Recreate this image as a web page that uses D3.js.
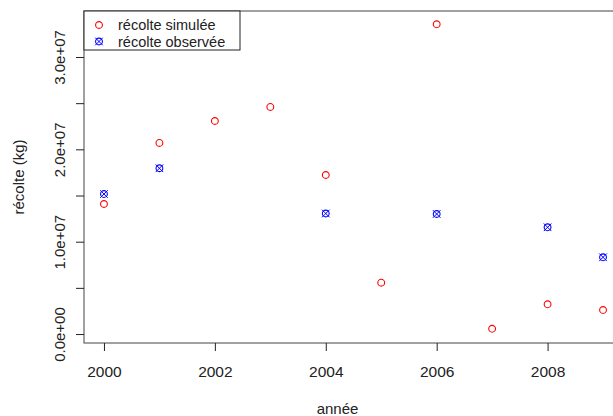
<!DOCTYPE html>
<html>
<head>
<meta charset="utf-8">
<script src="https://cdn.jsdelivr.net/npm/d3@7"></script>
<style>
  html, body { margin: 0; padding: 0; background: #fff; }
  svg { display: block; }
  text { font-family: "Liberation Sans", Arial, sans-serif; fill: #222; }
</style>
</head>
<body>
<svg id="chart" width="613" height="416"></svg>
<script>
// Harvest per year: simulated vs observed (kg); null = no observation
const years = [2000, 2001, 2002, 2003, 2004, 2005, 2006, 2007, 2008, 2009];
const simulated = [14.08e6, 20.69e6, 23.07e6, 24.59e6, 17.22e6, 5.56e6, 33.54e6, 0.57e6, 3.22e6, 2.60e6];
const observed = [15.16e6, 17.95e6, null, null, 13.05e6, null, 13.0e6, null, 11.56e6, 8.31e6];
const xTicks = [2000, 2002, 2004, 2006, 2008];
const yTicks = [0, 5e6, 10e6, 15e6, 20e6, 25e6, 30e6];
const yLabelled = [0, 10e6, 20e6, 30e6];
const yDomain = [-0.97e6, 34.98e6];
const legendLabels = ["récolte simulée", "récolte observée"];

const svg = d3.select("#chart");
const plot = { left: 84, top: 11, right: 623, bottom: 343 };

// x range padded 4% on each side
const xExt = d3.extent(years);
const xPad = (xExt[1] - xExt[0]) * 0.04;
const x = d3.scaleLinear().domain([xExt[0] - xPad, xExt[1] + xPad]).range([plot.left, plot.right]);
const y = d3.scaleLinear().domain(yDomain).range([plot.bottom, plot.top]);

const fmtExp = v => {
  if (v === 0) return "0.0e+00";
  const e = Math.floor(Math.log10(Math.abs(v)));
  const m = v / Math.pow(10, e);
  return m.toFixed(1) + "e" + (e >= 0 ? "+" : "-") + String(Math.abs(e)).padStart(2, "0");
};

// frame
svg.append("rect")
  .attr("x", plot.left).attr("y", plot.top)
  .attr("width", plot.right - plot.left).attr("height", plot.bottom - plot.top)
  .attr("fill", "none").attr("stroke", "#444").attr("stroke-width", 1);

// x axis
const xAxis = d3.axisBottom(x).tickValues(xTicks).tickSize(8).tickSizeOuter(0).tickPadding(15).tickFormat(d3.format("d"));
const gx = svg.append("g").attr("transform", `translate(0,${plot.bottom})`).call(xAxis);
gx.select(".domain").remove();
gx.selectAll(".tick line").attr("stroke", "#222");
gx.selectAll(".tick text").style("font-size", "15.5px").attr("fill", "#222");

// y axis: ticks every 5e6, labels on every other tick, rotated
const yAxis = d3.axisLeft(y).tickValues(yTicks).tickSize(8).tickSizeOuter(0)
  .tickFormat(d => yLabelled.includes(d) ? fmtExp(d) : "");
const gy = svg.append("g").attr("transform", `translate(${plot.left},0)`).call(yAxis);
gy.select(".domain").remove();
gy.selectAll(".tick line").attr("stroke", "#222");
gy.selectAll(".tick text")
  .attr("x", null).attr("dy", null)
  .attr("transform", "translate(-19,0) rotate(-90)")
  .attr("text-anchor", "middle")
  .style("font-size", "15px").attr("fill", "#222");

// axis titles
svg.append("text").attr("x", (plot.left + plot.right) / 2 - 16).attr("y", 414)
  .attr("text-anchor", "middle").style("font-size", "15px").text("année");
svg.append("text").attr("transform", `translate(24,${(plot.top + plot.bottom) / 2}) rotate(-90)`)
  .attr("text-anchor", "middle").style("font-size", "15px").text("récolte (kg)");

// markers
const r = 3.4;
function circleMark(g, color) {
  g.append("circle").attr("r", r).attr("fill", "none").attr("stroke", color).attr("stroke-width", 1.1);
}
function crossCircleMark(g, color) {
  circleMark(g, color);
  const a = 3.8;
  g.append("path").attr("d", `M${-a},${-a}L${a},${a}M${-a},${a}L${a},${-a}`)
    .attr("stroke", color).attr("stroke-width", 1).attr("fill", "none");
}

const data = years.map((yr, i) => ({ yr, sim: simulated[i], obs: observed[i] }));

svg.append("g").selectAll("g").data(data).join("g")
  .attr("transform", d => `translate(${x(d.yr)},${y(d.sim)})`)
  .each(function () { circleMark(d3.select(this), "#ff0000"); });

svg.append("g").selectAll("g").data(data.filter(d => d.obs != null)).join("g")
  .attr("transform", d => `translate(${x(d.yr)},${y(d.obs)})`)
  .each(function () { crossCircleMark(d3.select(this), "#0000ff"); });

// legend (top-left)
const lg = svg.append("g");
lg.append("rect").attr("x", plot.left).attr("y", plot.top).attr("width", 156).attr("height", 39)
  .attr("fill", "#fff").attr("stroke", "#222").attr("stroke-width", 1);
legendLabels.forEach((lab, i) => {
  const base = 30 + i * 16.5;
  const g = lg.append("g").attr("transform", `translate(99,${base - 5})`);
  if (i === 0) circleMark(g, "#ff0000"); else crossCircleMark(g, "#0000ff");
  lg.append("text").attr("x", 118).attr("y", base).style("font-size", "14.5px").text(lab);
});
</script>
</body>
</html>
